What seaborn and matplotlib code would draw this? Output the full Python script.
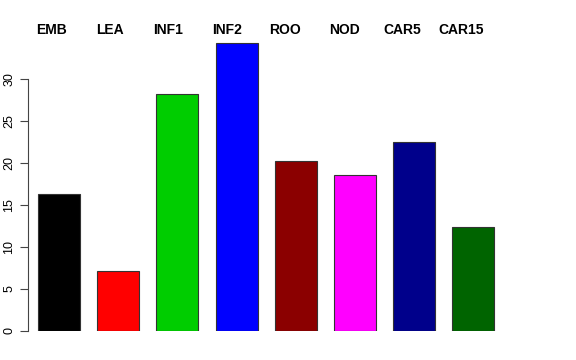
import matplotlib
matplotlib.use("Agg")
import matplotlib.pyplot as plt
import seaborn as sns
import pandas as pd

# data
tissues = ["EMB", "LEA", "INF1", "INF2", "ROO", "NOD", "CAR5", "CAR15"]
values = [16.3, 7.1, 28.2, 34.3, 20.2, 18.6, 22.5, 12.4]
colors = ["#000000", "#FF0000", "#00CD00", "#0000FF",
          "#8B0000", "#FF00FF", "#00008B", "#006400"]
yticks = [0, 5, 10, 15, 20, 25, 30]

df = pd.DataFrame({"tissue": tissues, "value": values})

sns.set_style("white")
plt.rcParams["font.family"] = ["Liberation Sans", "DejaVu Sans"]
plt.rcParams["text.color"] = "black"
plt.rcParams["ytick.color"] = "black"

fig = plt.figure(figsize=(5.76, 3.6), dpi=100)
# axes placed in pixel terms: left 28, right 548, bottom 331 (from top), top 31
W, H = 576, 360
ax = fig.add_axes([28 / W, (H - 331) / H, (548 - 28) / W, (331 - 31) / H])

sns.barplot(data=df, x="tissue", y="value", hue="tissue", palette=colors,
            saturation=1, width=0.71, edgecolor="#333333", linewidth=0.8,
            legend=False, ax=ax)

ax.set_xlim(-0.524, 8.26)
ax.set_ylim(0, 300 / 8.4)
ax.set_xlabel("")
ax.set_ylabel("")
ax.set_xticks([])
ax.set_yticks(yticks)
ax.set_yticklabels([str(t) for t in yticks], rotation=90, va="center", fontsize=9)
ax.tick_params(axis="y", left=True, length=6, width=0.8, color="#444444",
               labelcolor="black", pad=3)

for s in ["top", "right", "bottom"]:
    ax.spines[s].set_visible(False)
ax.spines["left"].set_bounds(0, 30)
ax.spines["left"].set_color("#444444")
ax.spines["left"].set_linewidth(0.8)

# tissue names across the top
for i, name in enumerate(tissues):
    ax.text(-0.135 + 0.99 * i, 301 / 8.4, name, ha="center", va="center",
            fontsize=10, fontweight="bold", color="black", clip_on=False)

fig.savefig("out.png", dpi=100)
